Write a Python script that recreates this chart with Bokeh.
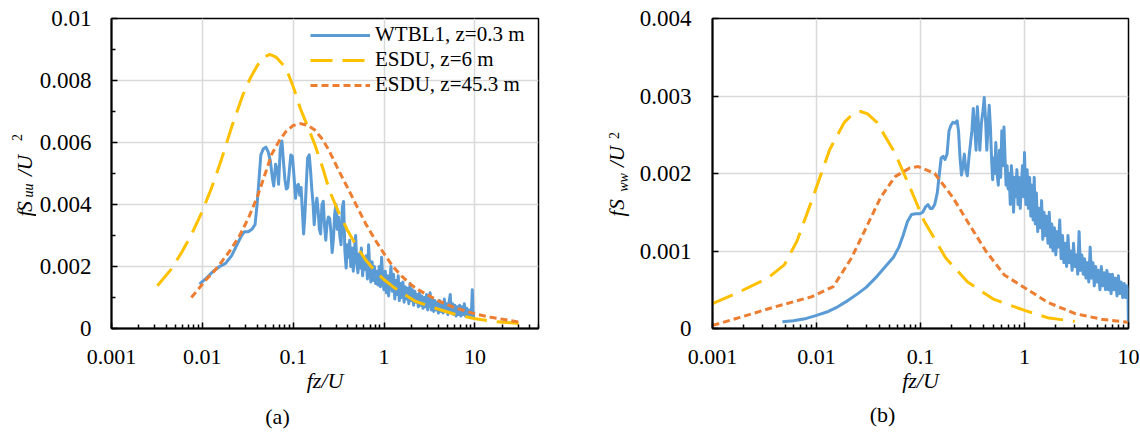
from math import pi
from bokeh.plotting import figure
from bokeh.models import (Range1d, FixedTicker, CustomJSTickFormatter, Label,
                          Legend, LegendItem)
from bokeh.layouts import row, column
from bokeh.embed import file_html
from bokeh.resources import INLINE

SERIF = "Liberation Serif"
BLUE = "#5B9BD5"
YELLOW = "#FFC000"
ORANGE = "#ED7D31"

# ---------------- data, panel (a): f S_uu / U^2 ----------------
wt_a_x = [0.0093, 0.011, 0.013, 0.0155, 0.018, 0.021, 0.024, 0.027, 0.029, 0.032,
          0.035, 0.038, 0.040, 0.042, 0.044, 0.047, 0.050, 0.053, 0.056, 0.059,
          0.061, 0.064, 0.067, 0.069, 0.072, 0.075, 0.078, 0.081, 0.084, 0.087,
          0.090, 0.094, 0.098, 0.102, 0.106, 0.110, 0.114, 0.118, 0.122, 0.126,
          0.130, 0.134, 0.139, 0.144, 0.150, 0.155, 0.160, 0.165, 0.170, 0.176,
          0.182, 0.188, 0.194, 0.200, 0.207, 0.214, 0.221, 0.228, 0.236, 0.244,
          0.252, 0.260, 0.268, 0.277, 0.286, 0.295, 0.305, 0.315, 0.325, 0.336,
          0.347, 0.358, 0.370, 0.382, 0.394, 0.405, 0.418, 0.430, 0.444, 0.458,
          0.472, 0.486, 0.500, 0.515, 0.530, 0.546, 0.562, 0.580, 0.598, 0.616,
          0.635, 0.655, 0.675, 0.695, 0.716, 0.738, 0.760, 0.783, 0.807, 0.832,
          0.857, 0.883, 0.910, 0.938, 0.966, 0.995, 1.03, 1.06, 1.09, 1.12,
          1.16, 1.19, 1.23, 1.27, 1.31, 1.35, 1.39, 1.43, 1.47, 1.52,
          1.56, 1.61, 1.66, 1.71, 1.76, 1.82, 1.87, 1.93, 1.99, 2.05,
          2.11, 2.18, 2.24, 2.31, 2.38, 2.45, 2.53, 2.60, 2.68, 2.76,
          2.85, 2.93, 3.02, 3.12, 3.21, 3.31, 3.41, 3.51, 3.62, 3.73,
          3.84, 3.96, 4.08, 4.20, 4.33, 4.46, 4.60, 4.74, 4.88, 5.03,
          5.18, 5.34, 5.50, 5.67, 5.84, 6.02, 6.20, 6.39, 6.58, 6.78,
          6.99, 7.20, 7.42, 7.64, 7.87, 8.11, 8.36, 8.61, 8.87, 9.14,
          9.35, 9.50, 9.70]
wt_a_y = [0.00143, 0.00162, 0.00183, 0.00200, 0.00210, 0.00235, 0.00270, 0.00300, 0.00312, 0.00312,
          0.00320, 0.00335, 0.00400, 0.00480, 0.00560, 0.00580, 0.00585, 0.00570, 0.00540, 0.00485,
          0.00460, 0.00530, 0.00510, 0.00465, 0.00580, 0.00605, 0.00540, 0.00480, 0.00450, 0.00455,
          0.00500, 0.00560, 0.00555, 0.00490, 0.00420, 0.00460, 0.00465, 0.00430, 0.00455, 0.00380,
          0.00305, 0.00360, 0.00460, 0.00550, 0.00560, 0.00510, 0.00450, 0.00405, 0.00335, 0.00390,
          0.00420, 0.00380, 0.00320, 0.00305, 0.00400, 0.00410, 0.00330, 0.00285, 0.00340, 0.00360,
          0.00355, 0.00310, 0.00245, 0.00290, 0.00370, 0.00400, 0.00320, 0.00360, 0.00300, 0.00270,
          0.00390, 0.00410, 0.00250, 0.00195, 0.00270, 0.00230, 0.00285, 0.00200, 0.00260, 0.00185,
          0.00255, 0.00300, 0.00210, 0.00180, 0.00240, 0.00195, 0.00260, 0.00170, 0.00220, 0.00190,
          0.00235, 0.00160, 0.00270, 0.00195, 0.00150, 0.00215, 0.00155, 0.00200, 0.00145, 0.00185,
          0.00140, 0.00200, 0.00135, 0.00230, 0.00160, 0.00125, 0.00185, 0.00115, 0.00170, 0.00105,
          0.00160, 0.00200, 0.00120, 0.00175, 0.00095, 0.00155, 0.00110, 0.00170, 0.00090, 0.00145,
          0.00100, 0.00150, 0.00085, 0.00135, 0.00095, 0.00130, 0.00080, 0.00145, 0.00090, 0.00125,
          0.00075, 0.00120, 0.00085, 0.00110, 0.00070, 0.00115, 0.00075, 0.00105, 0.00065, 0.00100,
          0.00070, 0.00110, 0.00060, 0.00095, 0.00115, 0.00060, 0.00095, 0.00055, 0.00090, 0.00060,
          0.00085, 0.00050, 0.00090, 0.00055, 0.00085, 0.00050, 0.00095, 0.00055, 0.00080, 0.00045,
          0.00085, 0.00110, 0.00050, 0.00080, 0.00045, 0.00075, 0.00040, 0.00070, 0.00045, 0.00075,
          0.00040, 0.00070, 0.00045, 0.00080, 0.00040, 0.00065, 0.00040, 0.00060, 0.00035, 0.00055,
          0.00125, 0.00060, 0.00030]

esdu6_a_x = [0.0032, 0.0045, 0.00585, 0.0075, 0.00968, 0.0125, 0.016, 0.021, 0.0277, 0.034,
             0.040, 0.047, 0.0552, 0.065, 0.075, 0.083, 0.100, 0.120, 0.145, 0.173,
             0.210, 0.251, 0.310, 0.395, 0.500, 0.624, 0.780, 0.986, 1.25, 1.56,
             2.2, 3.9, 6.0, 9.8, 16.0, 30.5]
esdu6_a_y = [0.00138, 0.00190, 0.00243, 0.00300, 0.00370, 0.00450, 0.00540, 0.00650, 0.00751, 0.00810,
             0.00847, 0.00875, 0.00884, 0.00875, 0.00855, 0.00841, 0.00780, 0.00709, 0.00650, 0.00593,
             0.00520, 0.00444, 0.00380, 0.00317, 0.00265, 0.00222, 0.00188, 0.00159, 0.00135, 0.00116,
             0.00088, 0.00063, 0.00046, 0.00032, 0.00023, 0.00016]

esdu45_a_x = [0.00757, 0.0092, 0.0111, 0.0135, 0.016, 0.020, 0.0253, 0.032, 0.040, 0.048,
              0.0577, 0.070, 0.083, 0.100, 0.120, 0.145, 0.173, 0.210, 0.251, 0.310,
              0.395, 0.500, 0.624, 0.790, 0.990, 1.25, 1.56, 2.0, 2.47, 3.9,
              6.0, 9.8, 15.0, 24.3, 30.5]
esdu45_a_y = [0.00100, 0.00130, 0.00159, 0.00185, 0.00212, 0.00250, 0.00296, 0.00355, 0.00423, 0.00490,
              0.00561, 0.00605, 0.00635, 0.00655, 0.00661, 0.00655, 0.00640, 0.00610, 0.00571, 0.00515,
              0.00455, 0.00395, 0.00339, 0.00288, 0.00243, 0.00200, 0.00169, 0.00140, 0.00122, 0.00090,
              0.00067, 0.00048, 0.00036, 0.00026, 0.00021]

# ---------------- data, panel (b): f S_ww / U^2 ----------------
wt_b_x = [0.0047, 0.006, 0.008, 0.010, 0.013, 0.016, 0.020, 0.025, 0.030, 0.038,
          0.046, 0.055, 0.062, 0.068, 0.075, 0.082, 0.090, 0.098, 0.105, 0.112,
          0.118, 0.124, 0.130, 0.137, 0.145, 0.152, 0.158, 0.165, 0.172, 0.180,
          0.188, 0.196, 0.205, 0.215, 0.225, 0.232, 0.240, 0.248, 0.256, 0.264,
          0.272, 0.282, 0.292, 0.302, 0.312, 0.322, 0.332, 0.342, 0.352, 0.362,
          0.372, 0.385, 0.398, 0.410, 0.422, 0.434, 0.446, 0.458, 0.470, 0.482,
          0.494, 0.506, 0.518, 0.530, 0.545, 0.560, 0.575, 0.590, 0.605, 0.620,
          0.635, 0.650, 0.665, 0.680, 0.695, 0.712, 0.730, 0.748, 0.766, 0.785,
          0.805, 0.825, 0.845, 0.866, 0.888, 0.910, 0.933, 0.956, 0.980, 1.00,
          1.03, 1.06, 1.09, 1.12, 1.15, 1.18, 1.21, 1.24, 1.27, 1.30,
          1.34, 1.38, 1.42, 1.46, 1.50, 1.54, 1.58, 1.63, 1.68, 1.73,
          1.78, 1.83, 1.88, 1.94, 2.00, 2.06, 2.12, 2.18, 2.25, 2.32,
          2.39, 2.46, 2.54, 2.62, 2.70, 2.78, 2.87, 2.96, 3.05, 3.15,
          3.25, 3.35, 3.45, 3.56, 3.67, 3.78, 3.90, 4.02, 4.15, 4.28,
          4.41, 4.55, 4.69, 4.84, 4.99, 5.15, 5.31, 5.48, 5.65, 5.83,
          6.01, 6.20, 6.40, 6.60, 6.80, 7.00, 7.25, 7.50, 7.75, 8.00,
          8.25, 8.50, 8.80, 9.10, 9.40, 9.70, 9.90, 9.97]
wt_b_y = [0.000087, 0.00010, 0.00013, 0.00017, 0.00022, 0.00028, 0.00036, 0.00045, 0.00053, 0.00067,
          0.00080, 0.00092, 0.00105, 0.00120, 0.00138, 0.00147, 0.00148, 0.00148, 0.00150, 0.00157,
          0.00160, 0.00155, 0.00155, 0.00160, 0.00175, 0.00200, 0.00220, 0.00222, 0.00218, 0.00225,
          0.00255, 0.00262, 0.00266, 0.00265, 0.00268, 0.00255, 0.00220, 0.00198, 0.00210, 0.00225,
          0.00205, 0.00197, 0.00220, 0.00238, 0.00255, 0.00284, 0.00260, 0.00230, 0.00286, 0.00260,
          0.00230, 0.00265, 0.00280, 0.00298, 0.00270, 0.00230, 0.00260, 0.00288, 0.00260, 0.00220,
          0.00192, 0.00220, 0.00200, 0.00240, 0.00200, 0.00185, 0.00230, 0.00195, 0.00255, 0.00210,
          0.00260, 0.00220, 0.00185, 0.00210, 0.00180, 0.00200, 0.00160, 0.00210, 0.00190, 0.00150,
          0.00195, 0.00170, 0.00205, 0.00160, 0.00195, 0.00155, 0.00185, 0.00210, 0.00170, 0.00227,
          0.00160, 0.00205, 0.00155, 0.00195, 0.00145, 0.00185, 0.00140, 0.00195, 0.00135, 0.00175,
          0.00125, 0.00155, 0.00130, 0.00165, 0.00115, 0.00150, 0.00120, 0.00145, 0.00110, 0.00150,
          0.00105, 0.00135, 0.00100, 0.00130, 0.00095, 0.00125, 0.00105, 0.00140, 0.00090, 0.00120,
          0.00085, 0.00110, 0.00080, 0.00120, 0.00085, 0.00100, 0.00075, 0.00110, 0.00080, 0.00095,
          0.00070, 0.00125, 0.00075, 0.00095, 0.00070, 0.00090, 0.00065, 0.00085, 0.00060, 0.00105,
          0.00065, 0.00085, 0.00055, 0.00080, 0.00060, 0.00075, 0.00050, 0.00080, 0.00055, 0.00072,
          0.00050, 0.00075, 0.00050, 0.00070, 0.00045, 0.00070, 0.00050, 0.00065, 0.00042, 0.00068,
          0.00045, 0.00060, 0.00040, 0.00058, 0.00040, 0.00055, 0.00045, 0.00008]

esdu6_b_x = [0.001, 0.0018, 0.0034, 0.0049, 0.0065, 0.009, 0.0134, 0.0185, 0.0225, 0.0266,
             0.031, 0.0381, 0.057, 0.0786, 0.108, 0.175, 0.284, 0.50, 1.02, 1.66, 3.04]
esdu6_b_y = [0.00032, 0.00047, 0.00065, 0.00082, 0.00113, 0.00165, 0.00231, 0.00266, 0.00277, 0.00280,
             0.00277, 0.00266, 0.00226, 0.00183, 0.00139, 0.00091, 0.00060, 0.00038, 0.00023, 0.00014, 0.00009]

esdu45_b_x = [0.001, 0.0018, 0.004, 0.009, 0.0145, 0.0217, 0.030, 0.0413, 0.057, 0.0786,
              0.095, 0.137, 0.205, 0.308, 0.425, 0.64, 1.02, 1.66, 3.1, 5.5, 9.8]
esdu45_b_y = [0.00004, 0.00014, 0.00028, 0.00041, 0.00054, 0.00091, 0.00130, 0.00169, 0.00196, 0.00207,
              0.00209, 0.00200, 0.00169, 0.00130, 0.00100, 0.00069, 0.00052, 0.00034, 0.00019, 0.00012, 0.00008]

# tick values / labels
xticks_a = [0.001, 0.01, 0.1, 1, 10]
xticks_b = [0.001, 0.01, 0.1, 1, 10]
yticks_a = [0, 0.002, 0.004, 0.006, 0.008, 0.01]
yminor_a = [0.001, 0.003, 0.005, 0.007, 0.009]
yticks_b = [0, 0.001, 0.002, 0.003, 0.004]
legend_labels = ["WTBL1, z=0.3 m", "ESDU, z=6 m", "ESDU, z=45.3 m"]
x_title = "fz/U"
panel_tags = ["(a)", "(b)"]

FMT = "return tick.toString();"


def decade_minors(lo_exp, hi_exp, xmax):
    out = []
    for e in range(lo_exp, hi_exp + 1):
        for m in range(2, 10):
            v = float(f"{m}e{e}")
            if v <= xmax:
                out.append(v)
    return out


def style(p, xt, xminor, yt, yminor, ystandoff):
    p.xaxis.ticker = FixedTicker(ticks=xt, minor_ticks=xminor)
    p.yaxis.ticker = FixedTicker(ticks=yt, minor_ticks=yminor)
    for ax in (p.xaxis[0], p.yaxis[0]):
        ax.formatter = CustomJSTickFormatter(code=FMT)
        ax.major_label_text_font = SERIF
        ax.major_label_text_color = "black"
        ax.axis_line_color = "black"
        ax.axis_line_width = 2
        ax.major_tick_in = 6
        ax.major_tick_out = 0
        ax.minor_tick_in = 4
        ax.minor_tick_out = 0
        ax.major_tick_line_color = "black"
        ax.minor_tick_line_color = "black"
        ax.major_tick_line_width = 1.5
        ax.minor_tick_line_width = 1.5
    p.xaxis.major_label_text_font_size = "22px"
    p.yaxis.major_label_text_font_size = "23px"
    p.xaxis.major_label_standoff = 21
    p.yaxis.major_label_standoff = ystandoff
    p.xaxis.axis_label = x_title
    p.xaxis.axis_label_text_font = SERIF
    p.xaxis.axis_label_text_font_style = "italic"
    p.xaxis.axis_label_text_font_size = "22px"
    p.xaxis.axis_label_text_color = "black"
    p.xaxis.axis_label_standoff = 1
    p.xgrid.grid_line_color = "#d9d9d9"
    p.ygrid.grid_line_color = "#d9d9d9"
    p.xgrid.grid_line_width = 1.5
    p.ygrid.grid_line_width = 1.5
    p.outline_line_color = "black"
    p.outline_line_width = 1.5
    p.outline_line_alpha = 1
    p.background_fill_color = "white"
    p.border_fill_color = "white"


TOP_H = 400
BT, BB = 18, 72          # common top / bottom borders of the upper row
FRAME_BOTTOM = TOP_H - BB


def blank(w, h, top=0, bottom=0):
    b = figure(width=w, height=h, x_range=Range1d(0, w), y_range=Range1d(0, h),
               x_axis_location=None, y_axis_location=None, title=None,
               output_backend="svg", toolbar_location=None,
               min_border_left=0, min_border_right=0,
               min_border_top=top, min_border_bottom=bottom)
    b.outline_line_color = None
    b.grid.visible = False
    b.background_fill_color = "white"
    b.border_fill_color = "white"
    return b


def lbl(p, x, y, text, size="22px", style_="italic", angle=0):
    p.add_layout(Label(x=x, y=y, x_units="screen", y_units="screen", text=text,
                       text_font=SERIF, text_font_size=size,
                       text_font_style=style_, text_color="black", angle=angle,
                       text_align="center", text_baseline="middle"))


def ylab(p, pieces):
    # pieces: (text, canvas-x centre inside p, canvas-y centre, size, style)
    for text, cx, cy, size, st in pieces:
        lbl(p, cx, FRAME_BOTTOM - cy, text, size=size, style_=st, angle=pi / 2)


# ---------------- panel (a) ----------------
p1 = figure(width=564, height=TOP_H, x_axis_type="log", title=None,
            x_range=Range1d(0.001, 50), y_range=Range1d(0, 0.01),
            output_backend="svg", toolbar_location=None,
            min_border_left=72, min_border_right=62,
            min_border_top=BT, min_border_bottom=BB)
style(p1, xticks_a, decade_minors(-3, 1, 50), yticks_a, yminor_a, 20)

r1 = p1.line(wt_a_x, wt_a_y, line_color=BLUE, line_width=3, line_join="round")
r2 = p1.line(esdu6_a_x, esdu6_a_y, line_color=YELLOW, line_width=3,
             line_dash="22 10")
r3 = p1.line(esdu45_a_x, esdu45_a_y, line_color=ORANGE, line_width=3,
             line_dash="7 4")

legend = Legend(items=[LegendItem(label=legend_labels[0], renderers=[r1]),
                       LegendItem(label=legend_labels[1], renderers=[r2]),
                       LegendItem(label=legend_labels[2], renderers=[r3])],
                location=(199, 231), glyph_width=60, glyph_height=20,
                label_height=20, label_standoff=5, spacing=0, padding=0,
                margin=0, label_text_font=SERIF, label_text_font_size="21px",
                label_text_color="black", background_fill_alpha=0,
                border_line_alpha=0)
p1.add_layout(legend)

# y title of (a): f S_uu / U^2   (canvas x 0..36)
ya = blank(36, TOP_H, BT, BB)
ylab(ya, [("f", 24, 213, "21px", "italic"),
          ("S", 24, 206, "21px", "italic"),
          ("uu", 28, 190, "14px", "italic"),
          ("/U", 24, 165, "21px", "italic"),
          ("2", 16, 137, "14px", "normal")])

# ---------------- panel (b) ----------------
p2 = figure(width=504, height=TOP_H, x_axis_type="log", title=None,
            x_range=Range1d(0.001, 10), y_range=Range1d(0, 0.004),
            output_backend="svg", toolbar_location=None,
            min_border_left=72, min_border_right=12,
            min_border_top=BT, min_border_bottom=BB)
style(p2, xticks_b, decade_minors(-3, 0, 10), yticks_b, [], 21)

p2.line(wt_b_x, wt_b_y, line_color=BLUE, line_width=3, line_join="round")
p2.line(esdu6_b_x, esdu6_b_y, line_color=YELLOW, line_width=3, line_dash="22 10")
p2.line(esdu45_b_x, esdu45_b_y, line_color=ORANGE, line_width=3, line_dash="7 4")

# y title of (b): f S_ww / U^2   (canvas x 600..636)
yb = blank(36, TOP_H, BT, BB)
ylab(yb, [("f", 16, 213, "21px", "italic"),
          ("S", 16, 204, "21px", "italic"),
          ("ww", 23, 182, "14px", "italic"),
          ("/U", 16, 156, "21px", "italic"),
          ("2", 13, 135, "14px", "normal")])

# ---------------- strip with panel tags ----------------
strip = blank(1140, 434 - TOP_H)
lbl(strip, 277, 434 - 416, panel_tags[0], style_="normal")
lbl(strip, 882, 434 - 414, panel_tags[1], style_="normal")

layout = column(row(ya, p1, yb, p2), strip)
open("out.html", "w").write(file_html(layout, INLINE))
